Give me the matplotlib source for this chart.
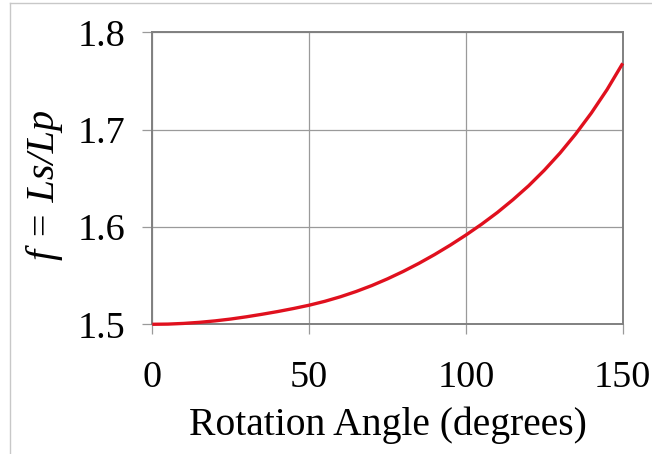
import matplotlib
matplotlib.use("Agg")
import matplotlib.pyplot as plt
from matplotlib.lines import Line2D

# Length ratio f = Ls/Lp against rotation angle (5 degree steps)
angle_deg = [0, 5, 10, 15, 20, 25, 30, 35, 40, 45, 50, 55, 60, 65, 70, 75,
             80, 85, 90, 95, 100, 105, 110, 115, 120, 125, 130, 135, 140,
             145, 150]
ratio_f = [1.5000, 1.5002, 1.5009, 1.5020, 1.5035, 1.5054, 1.5077, 1.5103,
           1.5131, 1.5162, 1.5196, 1.5236, 1.5283, 1.5337, 1.5398, 1.5467,
           1.5543, 1.5626, 1.5716, 1.5813, 1.5917, 1.6028, 1.6148, 1.6280,
           1.6423, 1.6583, 1.6759, 1.6955, 1.7171, 1.7411, 1.7681]

x_ticks = [0, 50, 100, 150]
y_ticks = [1.5, 1.6, 1.7, 1.8]

plt.rcParams["font.family"] = ["Liberation Serif", "DejaVu Serif"]

fig = plt.figure(figsize=(6.52, 4.54), dpi=100)
ax = fig.add_axes([0.2336, 0.2857, 0.7215, 0.6432])

ax.plot(angle_deg, ratio_f, color="#E0101E", lw=2.4, solid_capstyle="butt",
        solid_joinstyle="round", zorder=3, clip_on=False)

ax.set_xlim(0, 150)
ax.set_ylim(1.5, 1.8)
ax.set_xticks(x_ticks)
ax.set_yticks(y_ticks)
ax.set_xticklabels([str(v) for v in x_ticks])
ax.set_yticklabels([f"{v:.1f}" for v in y_ticks])

ax.grid(True, color="#9a9a9a", lw=0.9)
ax.set_axisbelow(True)
for side in ax.spines.values():
    side.set_color("#808080")
    side.set_linewidth(1.4)

ax.tick_params(axis="both", which="major", direction="out", length=7,
               width=0.9, color="#9a9a9a", labelsize=27.5)
ax.tick_params(axis="y", pad=12.5)
ax.tick_params(axis="x", pad=19)

ax.set_xlabel("Rotation Angle (degrees)", fontsize=28.5, labelpad=8)
ax.set_ylabel("f = Ls/Lp", fontsize=29, style="italic")
ax.yaxis.set_label_coords(-0.19, 0.477)

# light frame along the top and left edges of the figure
fig.add_artist(Line2D([10 / 652, 10 / 652], [0, 1 - 3 / 454],
                      transform=fig.transFigure, color="#c8c8c8", lw=1.0))
fig.add_artist(Line2D([10 / 652, 1], [1 - 3 / 454, 1 - 3 / 454],
                      transform=fig.transFigure, color="#c8c8c8", lw=1.0))

fig.savefig("out.png", dpi=100)
